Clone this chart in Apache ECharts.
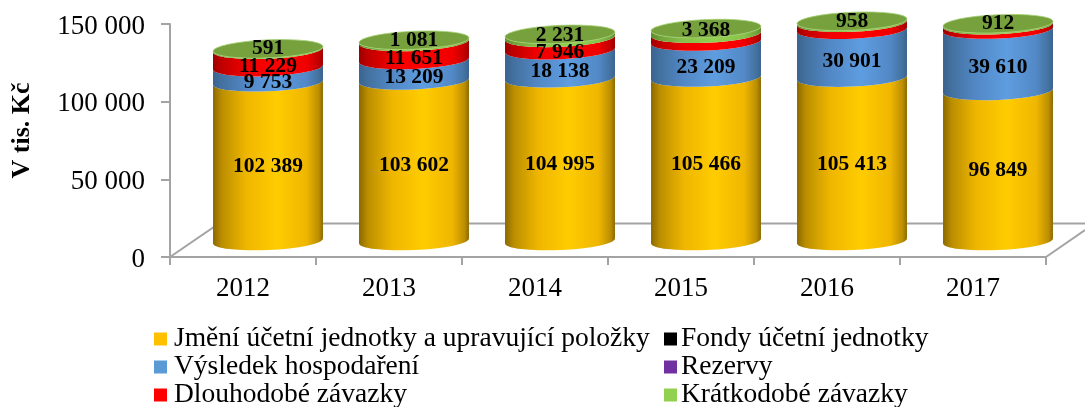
<!DOCTYPE html>
<html><head><meta charset="utf-8">
<style>html,body{margin:0;padding:0;background:#fff}#c{width:1085px;height:407px}</style>
<script src="https://cdn.jsdelivr.net/npm/echarts@6/dist/echarts.min.js"></script>
</head><body><div id="c"></div>
<script>
const years = ['2012','2013','2014','2015','2016','2017'];
const jmeni = [102389,103602,104995,105466,105413,96849];
const fondy = [0,0,0,0,0,0];
const vysledek = [9753,13209,18138,23209,30901,39610];
const rezervy = [0,0,0,0,0,0];
const dlouhodobe = [11229,11651,7946,5000,4500,2800];
const kratkodobe = [591,1081,2231,3368,958,912];
const dlouhodobeLabels = [true,true,true,false,false,false];
const yTicks = [0,50000,100000,150000];
const FONT = '"Liberation Serif","Times New Roman",serif';

function fmt(v){return String(v).replace(/\B(?=(\d{3})+$)/g,' ');}
function grad(edge,mid0,mid1,main){
  return {type:'linear',x:0,y:0,x2:1,y2:0,colorStops:[
    {offset:0,color:edge},{offset:.08,color:mid0},{offset:.3,color:mid1},{offset:.58,color:main},
    {offset:.85,color:mid1},{offset:.96,color:mid0},{offset:1,color:edge}]};
}
const defs = [
  {name:'Jmění účetní jednotky a upravující položky',vals:jmeni,color:'#ffc000',fill:grad('#8a6900','#bb8e00','#efb600','#ffcc00'),dy:5},
  {name:'Fondy účetní jednotky',vals:fondy,color:'#000000',fill:'#000'},
  {name:'Výsledek hospodaření',vals:vysledek,color:'#5b9bd5',fill:grad('#3a628f','#43719f','#5288c6','#5e9de0'),dy:7.5},
  {name:'Rezervy',vals:rezervy,color:'#7030a0',fill:'#7030a0'},
  {name:'Dlouhodobé závazky',vals:dlouhodobe,color:'#ff0000',fill:grad('#9c0000','#c00000','#f00000','#ff0000'),dy:8,shown:dlouhodobeLabels},
  {name:'Krátkodobé závazky',vals:kratkodobe,color:'#92d050',fill:grad('#5e8a30','#70a23a','#88c24a','#92d050'),dy:-1,top:true}
];
const base = years.map(()=>0);
const RY = 9, WIDTH = 0.753, TILT = 2.4;
const ROT = -Math.atan(TILT/55)*180/Math.PI;
const series = defs.map(function(d,si){
  const data = d.vals.map(function(v,i){const b=base[i];base[i]+=v;return [i,b,base[i],v];});
  return {
    type:'custom',name:d.name,xAxisIndex:1,yAxisIndex:1,z:3,clip:false,
    itemStyle:{color:d.color},encode:{x:0,y:[1,2]},data:data,
    renderItem:function(params,api){
      const i=api.value(0),b=api.value(1),t=api.value(2),v=api.value(3);
      if(!v) return {type:'group',children:[]};
      const pb=api.coord([i,b]),pt=api.coord([i,t]);
      const w=api.size([1,0])[0]*WIDTH,hw=w/2,cx=pb[0],yb=pb[1],yt=pt[1];
      const L=cx-hw,R=cx+hw;
      const arc=' A'+hw+' '+RY+' '+ROT+' 0 ';
      const path='M'+L+' '+(yb+TILT)+arc+'0 '+R+' '+(yb-TILT)+
        ' L'+R+' '+(yt-TILT)+arc+'1 '+L+' '+(yt+TILT)+' Z';
      const kids=[{type:'path',shape:{pathData:path},style:{fill:d.fill}}];
      if(d.top){
        const cap='M'+L+' '+(yt+TILT)+arc+'0 '+R+' '+(yt-TILT)+arc+'0 '+L+' '+(yt+TILT)+' Z';
        kids.push({type:'path',shape:{pathData:cap},style:{fill:'#76a13d',stroke:'#a5cf72',lineWidth:.8}});
      }
      if(!d.shown||d.shown[i]){
        kids.push({type:'text',z2:100,style:{text:fmt(v),x:cx,y:(yb+yt)/2+d.dy,align:'center',verticalAlign:'middle',
          font:'bold 21.5px '+FONT,fill:'#000'}});
      }
      return {type:'group',children:kids};
    }
  };
});
const legendText={fontFamily:FONT,fontSize:27.5,color:'#000',padding:[0,0,0,2],lineHeight:28};
const legendTextRight=Object.assign({},legendText,{padding:[0,0,0,-1]});
const chart=echarts.init(document.getElementById('c'),null,{renderer:'canvas'});
chart.setOption({
  animation:false,backgroundColor:'#fff',
  grid:[
    {left:170,right:39,top:24,bottom:150},
    {left:195,right:14,top:8.5,bottom:166}
  ],
  xAxis:[
    {type:'category',gridIndex:0,data:years,boundaryGap:true,
     axisLine:{lineStyle:{color:'#a3a3a3',width:2}},
     axisTick:{show:true,alignWithLabel:false,length:8,lineStyle:{color:'#a3a3a3',width:2}},
     axisLabel:{fontFamily:FONT,fontSize:27,color:'#000',margin:18,interval:0}},
    {type:'category',gridIndex:1,data:years,show:false}
  ],
  yAxis:[
    {type:'value',gridIndex:0,min:yTicks[0],max:yTicks[3],interval:yTicks[1],
     name:'V tis. Kč',nameLocation:'middle',nameGap:148,nameRotate:90,
     nameTextStyle:{fontFamily:FONT,fontWeight:'bold',fontSize:26,color:'#000',verticalAlign:'middle',padding:[0,0,0,20]},
     splitLine:{show:false},
     axisLine:{show:true,lineStyle:{color:'#a3a3a3',width:2}},
     axisTick:{show:true,length:9,lineStyle:{color:'#a3a3a3',width:2}},
     axisLabel:{fontFamily:FONT,fontSize:27,color:'#000',margin:25,verticalAlign:'top',padding:[-11,0,0,0],formatter:fmt}},
    {type:'value',gridIndex:1,min:0,max:150000,show:false,splitLine:{show:false}}
  ],
  legend:[
    {left:154,top:325,height:90,padding:0,orient:'vertical',itemGap:0,itemWidth:13,itemHeight:13,icon:'rect',selectedMode:false,
     data:[defs[0].name,defs[2].name,defs[4].name],textStyle:legendText},
    {left:664,top:325,height:90,padding:0,orient:'vertical',itemGap:0,itemWidth:13,itemHeight:13,icon:'rect',selectedMode:false,
     data:[defs[1].name,defs[3].name,defs[5].name],textStyle:legendTextRight}
  ],
  graphic:{elements:[
    {type:'polyline',z:1,silent:true,shape:{points:[[170,257],[219,223.5],[1085,223.5]]},style:{fill:null,stroke:'#a3a3a3',lineWidth:2}},
    {type:'line',z:1,silent:true,shape:{x1:1046,y1:257,x2:1085,y2:230},style:{stroke:'#a3a3a3',lineWidth:2}}
  ]},
  series:series
});
</script></body></html>
